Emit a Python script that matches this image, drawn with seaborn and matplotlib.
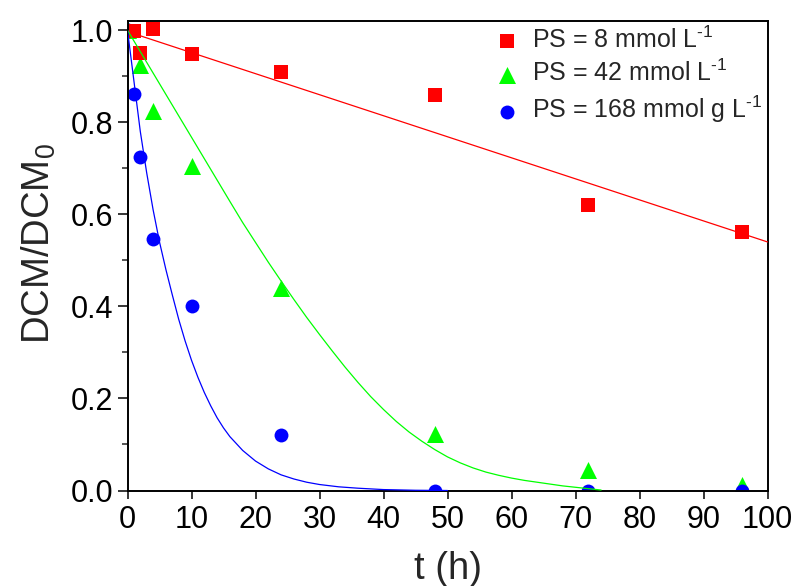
import matplotlib
matplotlib.use("Agg")
import matplotlib.pyplot as plt
import seaborn as sns
from matplotlib.ticker import MultipleLocator

# ---- measured data ----
t_red = [1, 2, 4, 10, 24, 48, 72, 96]
y_red = [0.998, 0.951, 1.002, 0.949, 0.909, 0.859, 0.620, 0.561]
t_green = [0, 2, 4, 10, 24, 48, 72, 96]
y_green = [1.0, 0.924, 0.825, 0.704, 0.440, 0.123, 0.044, 0.013]
t_blue = [0, 1, 2, 4, 10, 24, 48, 72, 96]
y_blue = [1.0, 0.862, 0.725, 0.546, 0.400, 0.121, 0.0, 0.0, 0.0]

# ---- fitted curves ----
fit_t_red = [0, 100]
fit_y_red = [0.997, 0.540]
fit_t_green = [0, 4, 8, 12, 16, 18, 20, 22, 24, 26, 28, 30, 32, 34, 36, 38, 40, 42, 44,
               46, 48, 50, 52, 54, 56, 58, 60, 62, 64, 66, 68, 70, 72, 74]
fit_y_green = [1.0, 0.907, 0.814, 0.721, 0.628, 0.582, 0.539, 0.496, 0.455, 0.415, 0.376,
               0.339, 0.303, 0.268, 0.235, 0.204, 0.176, 0.150, 0.127, 0.107, 0.089, 0.073,
               0.060, 0.049, 0.040, 0.033, 0.027, 0.022, 0.018, 0.014, 0.010, 0.007, 0.004, 0.001]
fit_t_blue = [0, 1, 2, 3, 4, 5, 6, 7, 8, 9, 10, 11, 12, 13, 14, 15, 16, 18, 20, 22, 24,
              26, 28, 30, 33, 36, 40, 45, 50]
fit_y_blue = [1.0, 0.89, 0.78, 0.69, 0.61, 0.54, 0.48, 0.425, 0.372, 0.325, 0.283, 0.246,
              0.213, 0.184, 0.158, 0.136, 0.117, 0.087, 0.064, 0.047, 0.034, 0.025, 0.018,
              0.013, 0.008, 0.005, 0.002, 0.0005, 0.0]

labels = [r"PS = 8 mmol L$^{\text{-1}}$",
          r"PS = 42 mmol L$^{\text{-1}}$",
          r"PS = 168 mmol g L$^{\text{-1}}$"]
x_ticks = list(range(0, 101, 10))
y_ticks = [0.0, 0.2, 0.4, 0.6, 0.8, 1.0]

RED, GREEN, BLUE = "#ff0000", "#00ff00", "#0000ff"

sns.set_style("ticks")
plt.rcParams["font.family"] = ["Liberation Sans", "DejaVu Sans"]
plt.rcParams["mathtext.fontset"] = "custom"
plt.rcParams["mathtext.rm"] = "Liberation Sans"
plt.rcParams["mathtext.it"] = "Liberation Sans"
plt.rcParams["mathtext.default"] = "regular"

fig = plt.figure(figsize=(7.97, 5.86), dpi=100)
ax = fig.add_axes([127.5 / 797, 1 - 490.5 / 586, 640 / 797, 469.5 / 586])

# fit lines
sns.lineplot(x=fit_t_red, y=fit_y_red, color=RED, lw=0.9, ax=ax, zorder=3, estimator=None, sort=False)
sns.lineplot(x=fit_t_green, y=fit_y_green, color=GREEN, lw=0.9, ax=ax, zorder=3, estimator=None, sort=False)
sns.lineplot(x=fit_t_blue, y=fit_y_blue, color=BLUE, lw=0.9, ax=ax, zorder=3, estimator=None, sort=False)

# data points
sns.scatterplot(x=t_green, y=y_green, color=GREEN, marker="^", s=150, linewidth=0, ax=ax, zorder=2.0, label=labels[1])
sns.scatterplot(x=t_blue, y=y_blue, color=BLUE, marker="o", s=100, linewidth=0, ax=ax, zorder=2.1, label=labels[2])
sns.scatterplot(x=t_red, y=y_red, color=RED, marker="s", s=92, linewidth=0, ax=ax, zorder=2.2, label=labels[0])

ax.set_xlim(0, 100)
ax.set_ylim(0, 1.02)
ax.set_xticks(x_ticks)
ax.set_yticks(y_ticks)
ax.set_yticklabels([f"{v:.1f}" for v in y_ticks])
ax.yaxis.set_minor_locator(MultipleLocator(0.1))

for side in ["left", "bottom", "top", "right"]:
    ax.spines[side].set_visible(True)
    ax.spines[side].set_linewidth(1.4)
    ax.spines[side].set_color("black")

ax.tick_params(axis="x", which="major", direction="out", length=5.8, width=1.1, labelsize=22, pad=5, colors="black")
ax.tick_params(axis="y", which="major", direction="out", length=7, width=1.1, labelsize=22, pad=3.5, colors="black")
ax.tick_params(axis="y", which="minor", direction="out", length=4, width=1.1)
ax.tick_params(top=False, right=False)

ax.set_xlabel("t (h)", fontsize=27.5, va="top")
ax.set_ylabel("DCM/DCM$_0$", fontsize=27.5)
ax.xaxis.set_label_coords(0.5, -0.128)
ax.yaxis.set_label_coords(-0.108, 0.527)

h, l = ax.get_legend_handles_labels()
order = [l.index(x) for x in labels]
ax.legend([h[i] for i in order], [l[i] for i in order], loc="upper left",
          bbox_to_anchor=(0.573, 0.989), frameon=False, fontsize=18,
          handlelength=1.0, handletextpad=0.5, borderaxespad=0, borderpad=0,
          labelspacing=0.3)

fig.savefig("out.png", dpi=100)
